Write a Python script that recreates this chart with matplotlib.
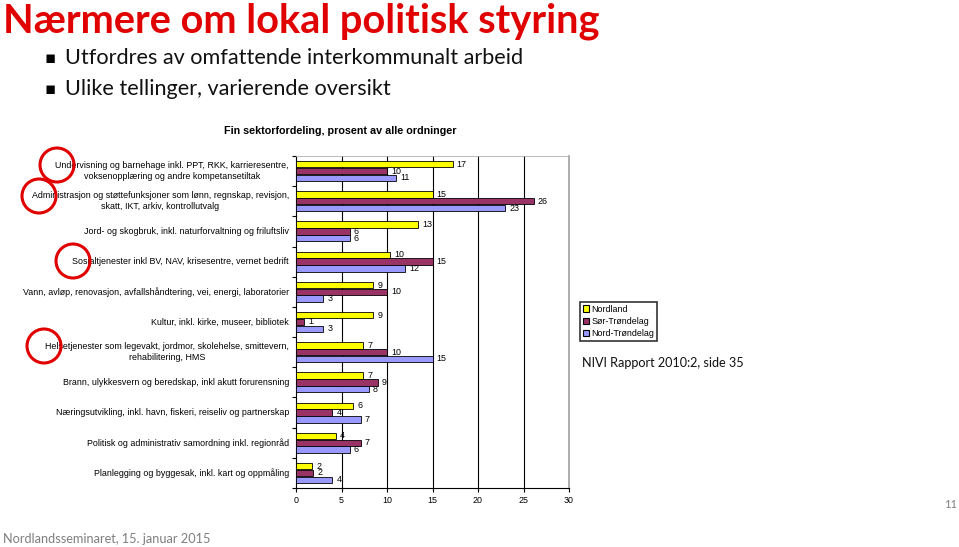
import numpy as np
import matplotlib
matplotlib.use("Agg")
import matplotlib.pyplot as plt
from matplotlib.patches import Patch, Circle
from matplotlib.transforms import blended_transform_factory

# data
categories = [
    "Undervisning og barnehage inkl. PPT, RKK, karrieresentre,\nvoksenopplæring og andre kompetansetiltak",
    "Administrasjon og støttefunksjoner som lønn, regnskap, revisjon,\nskatt, IKT, arkiv, kontrollutvalg",
    "Jord- og skogbruk, inkl. naturforvaltning og friluftsliv",
    "Sosialtjenester inkl BV, NAV, krisesentre, vernet bedrift",
    "Vann, avløp, renovasjon, avfallshåndtering, vei, energi, laboratorier",
    "Kultur, inkl. kirke, museer, bibliotek",
    "Helsetjenester som legevakt, jordmor, skolehelse, smittevern,\nrehabilitering, HMS",
    "Brann, ulykkesvern og beredskap, inkl akutt forurensning",
    "Næringsutvikling, inkl. havn, fiskeri, reiseliv og partnerskap",
    "Politisk og administrativ samordning inkl. regionråd",
    "Planlegging og byggesak, inkl. kart og oppmåling",
]
series = ["Nordland", "Sør-Trøndelag", "Nord-Trøndelag"]
nordland = [17.2, 15.0, 13.4, 10.3, 8.5, 8.5, 7.4, 7.4, 6.3, 4.4, 1.8]
sor_tr = [10.0, 26.1, 5.9, 15.0, 10.0, 0.9, 10.0, 9.0, 4.0, 7.1, 1.9]
nord_tr = [11.0, 23.0, 5.9, 12.0, 3.0, 3.0, 15.0, 8.0, 7.1, 5.9, 4.0]
nordland_lbl = ["17", "15", "13", "10", "9", "9", "7", "7", "6", "4", "2"]
sor_lbl = ["10", "26", "6", "15", "10", "1", "10", "9", "4", "7", "2"]
nord_lbl = ["11", "23", "6", "12", "3", "3", "15", "8", "7", "6", "4"]
xticks = [0, 5, 10, 15, 20, 25, 30]

colors = ["#FFFF00", "#993366", "#9999FF"]

W, H = 959, 547
fig = plt.figure(figsize=(W / 100, H / 100), dpi=100)
fig.patch.set_facecolor("white")

def fx(px):
    return px / W

def fy(py):
    return 1 - py / H

slide_font = ["Lato", "DejaVu Sans"]
chart_font = ["Liberation Sans", "DejaVu Sans"]
fs = 6.4

# slide texts
fig.text(fx(3), fy(21), "Nærmere om lokal politisk styring", color="#E00000",
         fontsize=28.6, fontweight="bold", family=slide_font, va="center", ha="left")
for yy, txt in [(58, "Utfordres av omfattende interkommunalt arbeid"),
                (89, "Ulike tellinger, varierende oversikt")]:
    fig.text(fx(44), fy(yy), "\u25aa", fontsize=12, family=["DejaVu Sans"], va="center", ha="left")
    fig.text(fx(65), fy(yy), txt, fontsize=15.6, family=slide_font, va="center", ha="left", color="#111111")
fig.text(fx(3), fy(539), "Nordlandsseminaret, 15. januar 2015", fontsize=9.2, family=slide_font,
         color="#7f7f7f", va="center", ha="left")
fig.text(fx(957), fy(505), "11", fontsize=8, family=slide_font, color="#7f7f7f", va="center", ha="right")
fig.text(fx(582), fy(363), "NIVI Rapport 2010:2, side 35", fontsize=9.1, family=slide_font,
         color="#111111", va="center", ha="left")

# chart title
fig.text(fx(340), fy(131), "Fin sektorfordeling, prosent av alle ordninger", fontsize=7.75,
         fontweight="bold", family=chart_font, va="center", ha="center")

ax = fig.add_axes([fx(296), fy(488), fx(569) - fx(296), (488 - 156) / H])
n = len(categories)
y = np.arange(n) + 0.5
bh = 0.21
offs = [-0.225, 0.0, 0.225]
vals = [nordland, sor_tr, nord_tr]
lbls = [nordland_lbl, sor_lbl, nord_lbl]
for k in range(3):
    ax.barh(y + offs[k], vals[k], height=bh, color=colors[k], edgecolor="black",
            linewidth=0.6, zorder=3, label=series[k])
    for yi, v, t in zip(y + offs[k], vals[k], lbls[k]):
        ax.annotate(t, (v, yi), xytext=(3, 0), textcoords="offset points",
                    fontsize=fs, family=chart_font, va="center", ha="left", zorder=4)

ax.set_xlim(0, 30)
ax.set_ylim(n, 0)
ax.set_xticks(xticks)
ax.set_xticklabels([str(t) for t in xticks], fontsize=fs, family=chart_font)
ax.set_yticks(np.arange(n + 1))
ax.set_yticklabels([])
ax.tick_params(axis="y", direction="out", length=3, width=0.8)
ax.tick_params(axis="x", direction="out", length=3, width=0.8, pad=3)
for g in xticks[1:-1]:
    ax.axvline(g, color="black", linewidth=0.8, zorder=1)
ax.spines["left"].set_color("black")
ax.spines["bottom"].set_color("black")
ax.spines["top"].set_color("#b0b0b0")
ax.spines["right"].set_color("#a0a0a0")
ax.spines["right"].set_linewidth(1.2)
ax.spines["top"].set_linewidth(0.6)

tr = blended_transform_factory(ax.transAxes, ax.transData)
for yi, c in zip(y, categories):
    ax.text(-7 / 273, yi, c, transform=tr, fontsize=fs, family=chart_font,
            ha="right", va="center", multialignment="center", linespacing=1.3)

# legend
handles = [Patch(facecolor=colors[k], edgecolor="black", linewidth=0.8, label=series[k]) for k in range(3)]
leg = fig.legend(handles=handles, loc="upper left", bbox_to_anchor=(fx(580), fy(302)),
                 prop={"family": chart_font, "size": fs}, frameon=True, fancybox=False,
                 handlelength=0.7, handleheight=0.7, handletextpad=0.3, labelspacing=0.38,
                 borderpad=0.3, borderaxespad=0)
leg.get_frame().set_edgecolor("black")
leg.get_frame().set_linewidth(1.2)

# red circles on the slide
for cx, cy in [(57, 165), (39, 196), (73, 261), (44, 346)]:
    fig.patches.append(Circle((cx, H - cy), 17, transform=None, fill=False,
                              edgecolor="#E00000", linewidth=2.2, zorder=10))

fig.savefig("out.png", dpi=100)
